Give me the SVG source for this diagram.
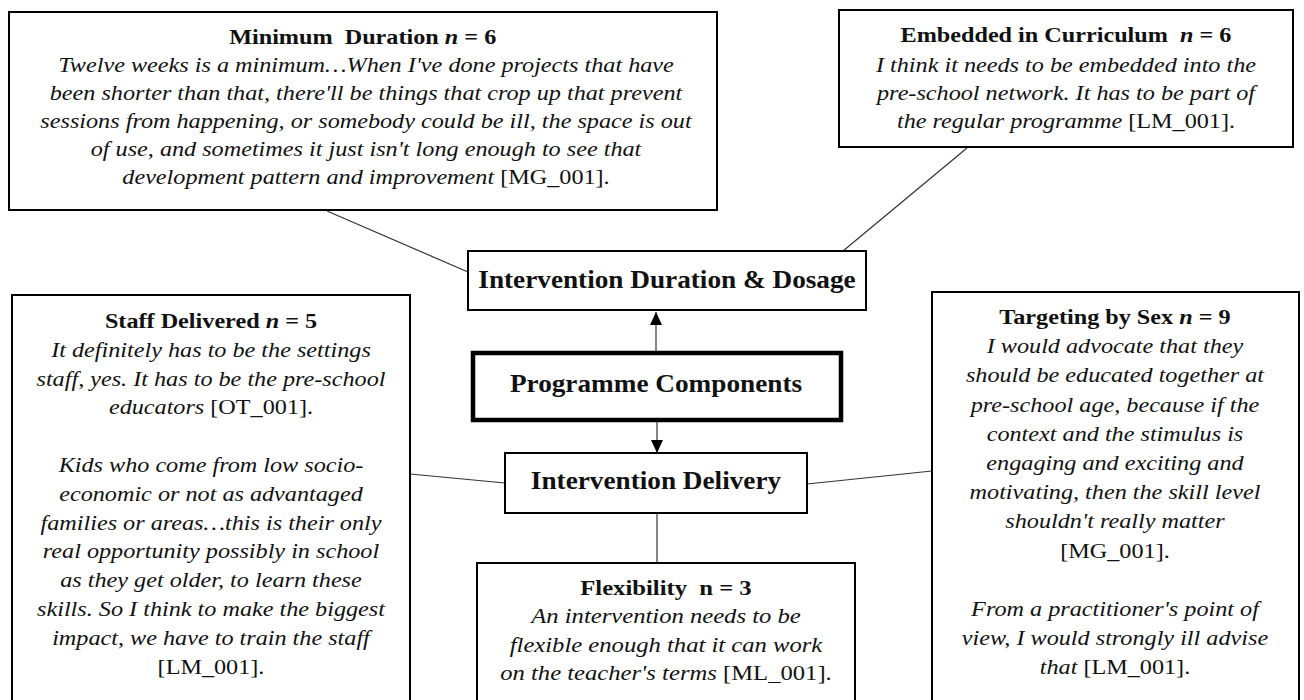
<svg xmlns="http://www.w3.org/2000/svg" width="1304" height="700" viewBox="0 0 1304 700">
<style>
.box{fill:#fff;stroke:#000;stroke-width:2}
.main{fill:#fff;stroke:#000;stroke-width:4.5}
.t{font-family:"Liberation Serif","Times New Roman",serif;font-size:22px;fill:#111;text-anchor:middle}
.b{font-weight:bold}
.i{font-style:italic}
.h{font-family:"Liberation Serif","Times New Roman",serif;font-size:25px;font-weight:bold;fill:#111;text-anchor:middle}
.c{stroke:#333;stroke-width:1.2;fill:none}
</style>
<defs>
<marker id="ah" markerUnits="userSpaceOnUse" markerWidth="14" markerHeight="14" viewBox="0 0 14 14" refX="13" refY="7" orient="auto">
<path d="M0,1 L13,7 L0,13 Z" fill="#000"/>
</marker>
</defs>
<rect width="1304" height="700" fill="#fff"/>
<g id="connectors">
<line class="c" x1="327" y1="211" x2="468" y2="272"/>
<line class="c" x1="967" y1="148" x2="843" y2="251"/>
<line class="c" x1="410" y1="474" x2="505" y2="483"/>
<line class="c" x1="807" y1="484" x2="932" y2="471"/>
<line class="c" x1="657" y1="514" x2="657" y2="563"/>
<line class="c" x1="656" y1="351" x2="656" y2="312" marker-end="url(#ah)"/>
<line class="c" x1="657" y1="422" x2="657" y2="453" marker-end="url(#ah)"/>
</g>
<g id="minimum-duration">
<rect class="box" x="9" y="12" width="708" height="198"/>
<g transform="matrix(1.1,0,0,1,-36.6,0)">
<text class="t" x="363" y="44" xml:space="preserve"><tspan class="b">Minimum  Duration </tspan><tspan class="b i">n</tspan><tspan class="b"> = 6</tspan></text>
<text class="t i" x="366" y="72">Twelve weeks is a minimum…When I've done projects that have</text>
<text class="t i" x="366" y="100">been shorter than that, there'll be things that crop up that prevent</text>
<text class="t i" x="366" y="128">sessions from happening, or somebody could be ill, the space is out</text>
<text class="t i" x="366" y="156">of use, and sometimes it just isn't long enough to see that</text>
<text class="t" x="366" y="184"><tspan class="i">development pattern and improvement</tspan> [MG_001].</text>
</g>
</g>
<g id="embedded-curriculum">
<rect class="box" x="839" y="10" width="454" height="137"/>
<g transform="matrix(1.1,0,0,1,-106.6,0)">
<text class="t" x="1066" y="42" xml:space="preserve"><tspan class="b">Embedded in Curriculum  </tspan><tspan class="b i">n</tspan><tspan class="b"> = 6</tspan></text>
<text class="t i" x="1066" y="72">I think it needs to be embedded into the</text>
<text class="t i" x="1066" y="100">pre-school network. It has to be part of</text>
<text class="t" x="1066" y="128"><tspan class="i">the regular programme</tspan> [LM_001].</text>
</g>
</g>
<g id="duration-dosage">
<rect class="box" x="468" y="251" width="398" height="59"/>
<text class="h" x="667" y="288" transform="matrix(1.09,0,0,1,-60.03,0)">Intervention Duration &amp; Dosage</text>
</g>
<g id="programme-components">
<rect class="main" x="473" y="353" width="368" height="67"/>
<text class="h" x="656" y="392" transform="matrix(1.09,0,0,1,-59.04,0)">Programme Components</text>
</g>
<g id="intervention-delivery">
<rect class="box" x="505" y="453" width="302" height="60"/>
<text class="h" x="656" y="489" transform="matrix(1.09,0,0,1,-59.04,0)">Intervention Delivery</text>
</g>
<g id="staff-delivered">
<rect class="box" x="12" y="295" width="398" height="420"/>
<g transform="matrix(1.1,0,0,1,-21.1,0)">
<text class="t" x="211" y="328"><tspan class="b">Staff Delivered </tspan><tspan class="b i">n</tspan><tspan class="b"> = 5</tspan></text>
<text class="t i" x="211" y="356.8">It definitely has to be the settings</text>
<text class="t i" x="211" y="385.6">staff, yes. It has to be the pre-school</text>
<text class="t" x="211" y="414.4"><tspan class="i">educators</tspan> [OT_001].</text>
<text class="t i" x="211" y="472">Kids who come from low socio-</text>
<text class="t i" x="211" y="500.8">economic or not as advantaged</text>
<text class="t i" x="211" y="529.6">families or areas…this is their only</text>
<text class="t i" x="211" y="558.4">real opportunity possibly in school</text>
<text class="t i" x="211" y="587.2">as they get older, to learn these</text>
<text class="t i" x="211" y="616">skills. So I think to make the biggest</text>
<text class="t i" x="211" y="644.8">impact, we have to train the staff</text>
<text class="t" x="211" y="673.6">[LM_001].</text>
</g>
</g>
<g id="targeting-sex">
<rect class="box" x="932" y="292" width="367" height="420"/>
<g transform="matrix(1.1,0,0,1,-111.5,0)">
<text class="t" x="1115" y="324"><tspan class="b">Targeting by Sex </tspan><tspan class="b i">n</tspan><tspan class="b"> = 9</tspan></text>
<text class="t i" x="1115" y="353.2">I would advocate that they</text>
<text class="t i" x="1115" y="382.4">should be educated together at</text>
<text class="t i" x="1115" y="411.6">pre-school age, because if the</text>
<text class="t i" x="1115" y="440.8">context and the stimulus is</text>
<text class="t i" x="1115" y="470">engaging and exciting and</text>
<text class="t i" x="1115" y="499.2">motivating, then the skill level</text>
<text class="t i" x="1115" y="528.4">shouldn't really matter</text>
<text class="t" x="1115" y="557.6">[MG_001].</text>
<text class="t i" x="1115" y="616">From a practitioner's point of</text>
<text class="t i" x="1115" y="645.2">view, I would strongly ill advise</text>
<text class="t" x="1115" y="674.4"><tspan class="i">that</tspan> [LM_001].</text>
</g>
</g>
<g id="flexibility">
<rect class="box" x="477" y="563" width="378" height="150"/>
<g transform="matrix(1.12,0,0,1,-79.92,0)">
<text class="t b" x="666" y="595" xml:space="preserve">Flexibility  n = 3</text>
<text class="t i" x="666" y="623.5">An intervention needs to be</text>
<text class="t i" x="666" y="652">flexible enough that it can work</text>
<text class="t" x="666" y="680.5"><tspan class="i">on the teacher's terms</tspan> [ML_001].</text>
</g>
</g>
</svg>
